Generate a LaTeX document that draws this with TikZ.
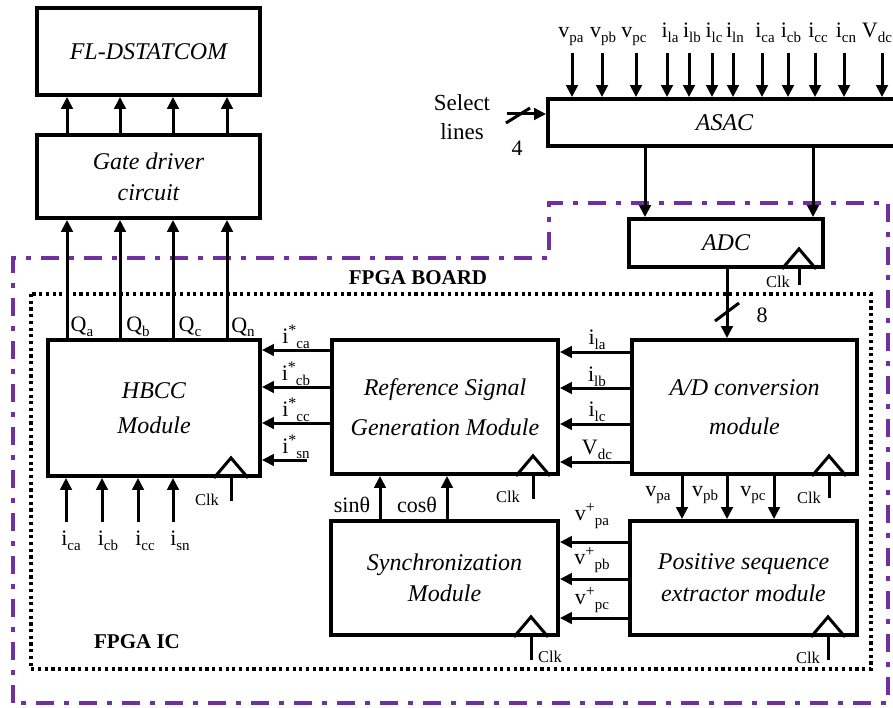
\documentclass[tikz,border=0pt]{standalone}
\usepackage{fontspec}
\setmainfont{Liberation Serif}
\usetikzlibrary{arrows.meta}
\newcommand{\lsub}[1]{\raisebox{-4.5pt}{\fontsize{15}{15}\selectfont #1}}
\newcommand{\lsup}[1]{\raisebox{8pt}{\fontsize{16}{16}\selectfont #1}}
\definecolor{fpgapurple}{HTML}{7030A0}
\tikzset{
 blk/.style={draw, line width=3.8pt, rectangle, inner sep=0pt, align=center},
 arr/.style={line width=3pt, -{Triangle[length=12pt,width=11.5pt]}},
 wire/.style={line width=3pt},
 lbl/.style={inner sep=0pt, font=\fontsize{22}{22}\selectfont},
 clktxt/.style={inner sep=0pt, font=\fontsize{16.5}{16.5}\selectfont},
 boldlbl/.style={inner sep=0pt, font=\fontsize{21}{21}\selectfont\bfseries},
 boardline/.style={draw=fpgapurple, line width=3.2pt, dash pattern=on 18pt off 10pt on 5pt off 10pt},
 icline/.style={draw=black, line width=3.2pt, dash pattern=on 3.2pt off 3.5pt},
 pics/clk/.style={code={
   \draw[wire, line join=miter] (-17,0) -- (0,-20) -- (17,0);
   \draw[wire] (0,0) -- (0,#1);
 }},
}
\begin{document}
\begin{tikzpicture}[x=1pt,y=-1pt]
\useasboundingbox (0,0) rectangle (893,708);
\clip (0,0) rectangle (893,708);

% enclosures
\draw[boardline] (13,703) -- (13,258) -- (549,258) -- (549,203) -- (888,203) -- (888,703) -- cycle;
\draw[icline] (31,294) rectangle (871,669);
\node[boldlbl] (board) at (418,278) {FPGA BOARD};
\node[boldlbl] (ic) at (137,642) {FPGA IC};

% blocks
\node[blk, minimum width=223, minimum height=87, font=\fontsize{24}{31}\selectfont\itshape] (FL) at (148.5,51.5) {FL-DSTATCOM};
\node[blk, minimum width=223, minimum height=83, font=\fontsize{24}{31}\selectfont\itshape] (GD) at (148.5,176.5) {Gate driver\\circuit};
\node[blk, minimum width=212, minimum height=136, font=\fontsize{24}{35}\selectfont\itshape] (HBCC) at (154,408) {HBCC\\Module};
\node[blk, minimum width=226, minimum height=134, font=\fontsize{24}{40}\selectfont\itshape] (RSG) at (445,407) {Reference Signal\\Generation Module};
\node[blk, minimum width=225, minimum height=134, font=\fontsize{24}{39}\selectfont\itshape] (AD) at (744.5,407) {A/D conversion\\module};
\node[blk, minimum width=227, minimum height=114, font=\fontsize{24}{31}\selectfont\itshape] (Sync) at (444.5,578) {Synchronization\\Module};
\node[blk, minimum width=227, minimum height=114, font=\fontsize{24}{32}\selectfont\itshape] (Pos) at (743.5,578) {Positive sequence\\extractor module};
\node[blk, minimum width=194, minimum height=48, font=\fontsize{24}{31}\selectfont\itshape] (ADC) at (726,243) {ADC};
\node[blk, minimum width=357, minimum height=47, font=\fontsize{24}{31}\selectfont\itshape] (ASAC) at (726.5,122.5) {\hspace*{-4pt}ASAC};

% clocks
\coordinate (k1) at (231,0);
\coordinate (k2) at (533,0);
\coordinate (k3) at (829,0);
\coordinate (k4) at (531,0);
\coordinate (k5) at (828,0);
\coordinate (k6) at (799,0);
\pic at (HBCC.south -| k1) {clk=23};
\pic at (RSG.south -| k2) {clk=23};
\pic at (AD.south -| k3) {clk=22};
\pic at (Sync.south -| k4) {clk=23};
\pic at (Pos.south -| k5) {clk=23};
\pic at (ADC.south -| k6) {clk=16};
\node[clktxt] (c1) at (207,500) {Clk};
\node[clktxt] (c2) at (508,497) {Clk};
\node[clktxt] (c3) at (809,498) {Clk};
\node[clktxt] (c4) at (550,657) {Clk};
\node[clktxt] (c5) at (808,658) {Clk};
\node[clktxt] (c6) at (778,282) {Clk};

% gate signals
\foreach \x [count=\i] in {67,120,173,227} {
  \coordinate (q\i) at (\x,0);
  \draw[arr] (GD.north -| q\i) -- (FL.south -| q\i);
  \draw[arr] (HBCC.north -| q\i) -- (GD.south -| q\i);
}
\node[lbl] (Qa) at (82,327) {Q\lsub{a}};
\node[lbl] (Qb) at (138,327) {Q\lsub{b}};
\node[lbl] (Qc) at (190,327) {Q\lsub{c}};
\node[lbl] (Qn) at (243,327) {Q\lsub{n}};

% ASAC inputs
\foreach \x/\lx/\t [count=\i] in {572/571/v\lsub{pa}, 602/603/v\lsub{pb}, 636/634/v\lsub{pc}, 667/670/i\lsub{la}, 689/692/i\lsub{lb}, 712/714/i\lsub{lc}, 733/735/i\lsub{ln}, 762/765/i\lsub{ca}, 788/791/i\lsub{cb}, 815/818/i\lsub{cc}, 844/846/i\lsub{cn}, 882/877/V\lsub{dc}} {
  \coordinate (in\i) at (\x,53);
  \draw[arr] (in\i) -- (ASAC.north -| in\i);
  \node[lbl, anchor=base] (inl\i) at (\lx,38) {\t};
}

% select lines
\node[inner sep=0pt, align=center, font=\fontsize{23}{29}\selectfont] (sel) at (462,117) {Select\\lines};
\coordinate (selA) at (507,114);
\draw[arr] (selA) -- (selA -| ASAC.west);
\draw[wire] (506,123) -- (530,108);
\node[lbl] (four) at (517,148) {4};

% ASAC -> ADC
\coordinate (a1) at (645,0);
\coordinate (a2) at (813,0);
\draw[arr] (ASAC.south -| a1) -- (ADC.north -| a1);
\draw[arr] (ASAC.south -| a2) -- (ADC.north -| a2);

% ADC -> A/D module
\coordinate (a3) at (727,0);
\draw[arr] (ADC.south -| a3) -- (AD.north -| a3);
\draw[wire] (715,321) -- (739,303);
\node[lbl] (eight) at (762,315) {8};

% A/D -> RSG
\foreach \y [count=\i] in {352,388,424,462} {
  \coordinate (r\i) at (0,\y);
  \draw[arr] (AD.west |- r\i) -- (RSG.east |- r\i);
}
\node[lbl] (ila) at (597,340) {i\lsub{la}};
\node[lbl] (ilb) at (597,377) {i\lsub{lb}};
\node[lbl] (ilc) at (597,412) {i\lsub{lc}};
\node[lbl] (vdc) at (597,450) {V\lsub{dc}};

% RSG -> HBCC
\foreach \y [count=\i] in {350,387,423} {
  \coordinate (h\i) at (0,\y);
  \draw[arr] (RSG.west |- h\i) -- (HBCC.east |- h\i);
}
\coordinate (isn) at (307,460);
\draw[arr] (isn) -- (HBCC.east |- isn);
\node[lbl] (isca) at (296,337) {i\lsup{*}\lsub{ca}};
\node[lbl] (iscb) at (296,374) {i\lsup{*}\lsub{cb}};
\node[lbl] (iscc) at (296,410) {i\lsup{*}\lsub{cc}};
\node[lbl] (issn) at (296,447) {i\lsup{*}\lsub{sn}};

% HBCC bottom inputs
\foreach \x/\lx/\t [count=\i] in {66/71/i\lsub{ca}, 102/108/i\lsub{cb}, 138/145/i\lsub{cc}, 173/180/i\lsub{sn}} {
  \coordinate (b\i) at (\x,522);
  \draw[arr] (b\i) -- (HBCC.south -| b\i);
  \node[lbl] (bl\i) at (\lx,541) {\t};
}

% A/D -> Positive sequence
\foreach \x [count=\i] in {682,727,774} {
  \coordinate (p\i) at (\x,0);
  \draw[arr] (AD.south -| p\i) -- (Pos.north -| p\i);
}
\node[lbl] (vpa) at (658,495) {v\lsub{pa}};
\node[lbl] (vpb) at (705,495) {v\lsub{pb}};
\node[lbl] (vpc) at (753,495) {v\lsub{pc}};

% Positive -> Sync
\foreach \y [count=\i] in {542,579,618} {
  \coordinate (v\i) at (0,\y);
  \draw[arr] (Pos.west |- v\i) -- (Sync.east |- v\i);
}
\node[lbl] (vppa) at (592,516) {v\lsup{+}\lsub{pa}};
\node[lbl] (vppb) at (592,560) {v\lsup{+}\lsub{pb}};
\node[lbl] (vppc) at (592,600) {v\lsup{+}\lsub{pc}};

% Sync -> RSG
\coordinate (s1) at (380,0);
\coordinate (s2) at (447,0);
\draw[arr] (Sync.north -| s1) -- (RSG.south -| s1);
\draw[arr] (Sync.north -| s2) -- (RSG.south -| s2);
\node[lbl] (sin) at (352,505) {sinθ};
\node[lbl] (cos) at (417,505) {cosθ};
\end{tikzpicture}
\end{document}
